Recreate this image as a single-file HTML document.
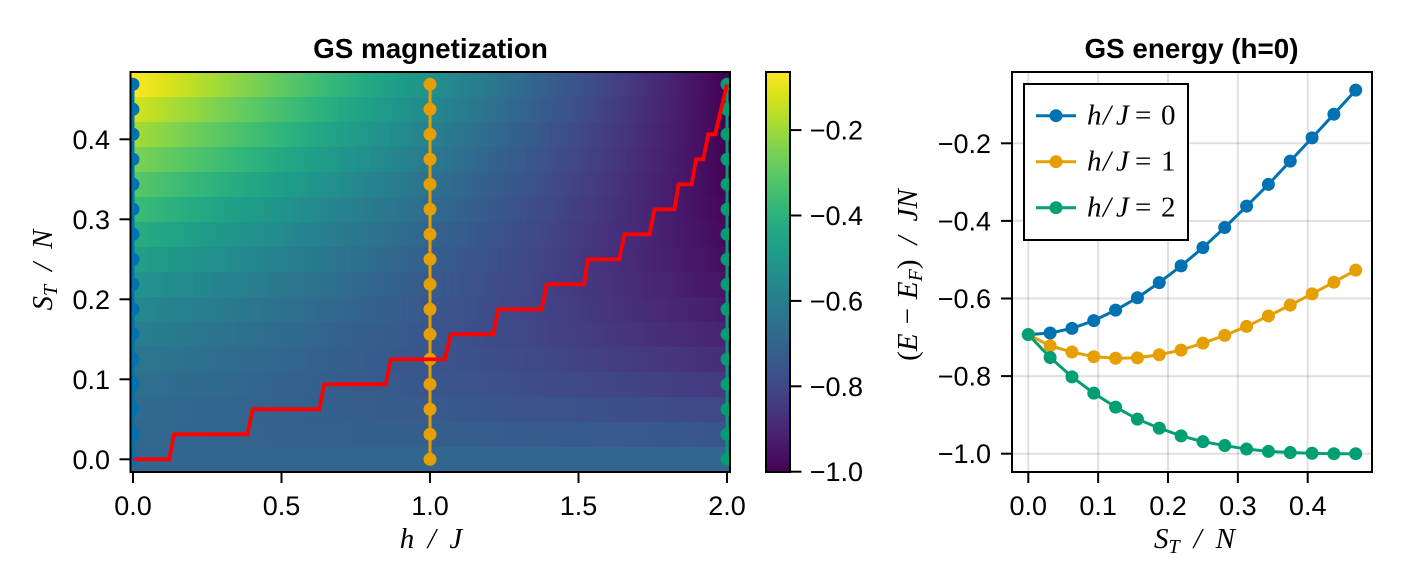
<!DOCTYPE html>
<html>
<head>
<meta charset="utf-8">
<title>GS magnetization and energy</title>
<style>
html,body{margin:0;padding:0;background:#fff;}
svg{display:block;}
.tick-label{font-family:"Liberation Sans",sans-serif;font-size:27px;fill:#000;}
.title{font-family:"Liberation Sans",sans-serif;font-size:27.8px;font-weight:bold;fill:#000;text-anchor:middle;}
.math{font-family:"Liberation Serif",serif;font-size:29px;font-style:italic;fill:#000;}
.upright{font-style:normal;}
</style>
</head>
<body>
<svg id="chart" xmlns="http://www.w3.org/2000/svg" width="1404" height="588" viewBox="0 0 1404 588">
  <defs id="defs">
    <clipPath id="heat-clip"><rect x="130.5" y="72" width="599.5" height="400"/></clipPath>
    <clipPath id="energy-clip"><rect x="1012" y="72" width="360" height="400"/></clipPath>
  </defs>
  <rect x="0" y="0" width="1404" height="588" fill="#fff"/>

  <g id="heat-layer" clip-path="url(#heat-clip)"></g>
  <g id="left-series" clip-path="url(#heat-clip)"></g>
  <polyline id="red-line" clip-path="url(#heat-clip)" fill="none" stroke="#ff0000" stroke-width="3.8" stroke-linejoin="miter"/>
  <rect x="130.5" y="72" width="599.5" height="400" fill="none" stroke="#000" stroke-width="2"/>
  <g id="left-ticks"></g>
  <text class="title" x="430.5" y="58">GS magnetization</text>
  <text class="math" x="431" y="548" text-anchor="middle">h<tspan dx="13.5">/</tspan><tspan dx="13.5">J</tspan></text>
  <text class="math" transform="translate(52,270) rotate(-90)" text-anchor="middle">S<tspan dy="5" font-size="20">T</tspan><tspan dy="-5" dx="14">/</tspan><tspan dx="14">N</tspan></text>

  <g id="colorbar-layer"></g>
  <rect x="766" y="72" width="24" height="400" fill="none" stroke="#000" stroke-width="2"/>
  <g id="colorbar-ticks"></g>

  <g id="right-grid"></g>
  <g id="right-series" clip-path="url(#energy-clip)"></g>
  <rect x="1012" y="72" width="360" height="400" fill="none" stroke="#000" stroke-width="2"/>
  <g id="right-ticks"></g>
  <text class="title" x="1191.5" y="58">GS energy (h=0)</text>
  <text class="math" x="1194.5" y="548" text-anchor="middle">S<tspan dy="5" font-size="20">T</tspan><tspan dy="-5" dx="14">/</tspan><tspan dx="14">N</tspan></text>
  <text class="math" transform="translate(917,275) rotate(-90)" text-anchor="middle"><tspan class="upright">(</tspan>E<tspan class="upright" dx="9">−</tspan><tspan dx="9">E</tspan><tspan dy="5" font-size="20">F</tspan><tspan class="upright" dy="-5">)</tspan><tspan dx="15">/</tspan><tspan dx="15">JN</tspan></text>

  <g>
    <rect x="1024" y="84" width="164" height="156" fill="#fff" stroke="#000" stroke-width="2"/>
    <g>
      <line x1="1036" x2="1076" y1="115.7" y2="115.7" stroke="#0072b2" stroke-width="3"/>
      <circle cx="1056" cy="115.7" r="6.5" fill="#0072b2"/>
      <text class="math" y="124.5"><tspan x="1087">h</tspan><tspan x="1103">/</tspan><tspan x="1116">J</tspan><tspan class="upright" x="1135">=</tspan><tspan class="upright" x="1161">0</tspan></text>
    </g>
    <g>
      <line x1="1036" x2="1076" y1="161.7" y2="161.7" stroke="#e69f00" stroke-width="3"/>
      <circle cx="1056" cy="161.7" r="6.5" fill="#e69f00"/>
      <text class="math" y="170.5"><tspan x="1087">h</tspan><tspan x="1103">/</tspan><tspan x="1116">J</tspan><tspan class="upright" x="1135">=</tspan><tspan class="upright" x="1161">1</tspan></text>
    </g>
    <g>
      <line x1="1036" x2="1076" y1="207.7" y2="207.7" stroke="#009e73" stroke-width="3"/>
      <circle cx="1056" cy="207.7" r="6.5" fill="#009e73"/>
      <text class="math" y="216.5"><tspan x="1087">h</tspan><tspan x="1103">/</tspan><tspan x="1116">J</tspan><tspan class="upright" x="1135">=</tspan><tspan class="upright" x="1161">2</tspan></text>
    </g>
  </g>
</svg>
<script>
// ---- data ----
const spinValues = [0,0.03125,0.0625,0.09375,0.125,0.15625,0.1875,0.21875,0.25,0.28125,0.3125,0.34375,0.375,0.40625,0.4375,0.46875];
const fieldValues = [0,0.1,0.2,0.3,0.4,0.5,0.6,0.7,0.8,0.9,1,1.1,1.2,1.3,1.4,1.5,1.6,1.7,1.8,1.9,2];
const heatRow00 = [-0.693,-0.693,-0.693,-0.693,-0.693,-0.693,-0.693,-0.693,-0.693,-0.693,-0.693,-0.693,-0.693,-0.693,-0.693,-0.693,-0.693,-0.693,-0.693,-0.693,-0.693];
const heatRow01 = [-0.689,-0.692,-0.695,-0.698,-0.702,-0.705,-0.708,-0.711,-0.714,-0.717,-0.720,-0.723,-0.727,-0.730,-0.733,-0.736,-0.739,-0.742,-0.745,-0.748,-0.752];
const heatRow02 = [-0.677,-0.683,-0.689,-0.696,-0.702,-0.708,-0.714,-0.721,-0.727,-0.733,-0.739,-0.746,-0.752,-0.758,-0.764,-0.771,-0.777,-0.783,-0.789,-0.796,-0.802];
const heatRow03 = [-0.657,-0.666,-0.676,-0.685,-0.695,-0.704,-0.713,-0.723,-0.732,-0.741,-0.751,-0.760,-0.770,-0.779,-0.788,-0.798,-0.807,-0.816,-0.826,-0.835,-0.845];
const heatRow04 = [-0.630,-0.643,-0.655,-0.668,-0.680,-0.693,-0.705,-0.718,-0.730,-0.743,-0.755,-0.768,-0.780,-0.793,-0.805,-0.818,-0.830,-0.843,-0.855,-0.868,-0.880];
const heatRow05 = [-0.598,-0.614,-0.629,-0.645,-0.660,-0.676,-0.692,-0.707,-0.723,-0.739,-0.754,-0.770,-0.785,-0.801,-0.817,-0.832,-0.848,-0.864,-0.879,-0.895,-0.910];
const heatRow06 = [-0.559,-0.578,-0.597,-0.615,-0.634,-0.653,-0.672,-0.690,-0.709,-0.728,-0.747,-0.765,-0.784,-0.803,-0.822,-0.840,-0.859,-0.878,-0.897,-0.915,-0.934];
const heatRow07 = [-0.516,-0.538,-0.560,-0.582,-0.604,-0.625,-0.647,-0.669,-0.691,-0.713,-0.735,-0.757,-0.779,-0.800,-0.822,-0.844,-0.866,-0.888,-0.910,-0.932,-0.954];
const heatRow08 = [-0.469,-0.494,-0.519,-0.544,-0.569,-0.594,-0.619,-0.644,-0.669,-0.694,-0.719,-0.744,-0.769,-0.794,-0.819,-0.844,-0.869,-0.894,-0.919,-0.944,-0.969];
const heatRow09 = [-0.417,-0.445,-0.473,-0.501,-0.529,-0.558,-0.586,-0.614,-0.642,-0.670,-0.698,-0.726,-0.754,-0.783,-0.811,-0.839,-0.867,-0.895,-0.923,-0.951,-0.979];
const heatRow10 = [-0.362,-0.393,-0.425,-0.456,-0.487,-0.518,-0.550,-0.581,-0.612,-0.643,-0.675,-0.706,-0.737,-0.768,-0.800,-0.831,-0.862,-0.893,-0.925,-0.956,-0.987];
const heatRow11 = [-0.306,-0.340,-0.375,-0.409,-0.444,-0.478,-0.512,-0.547,-0.581,-0.615,-0.650,-0.684,-0.719,-0.753,-0.787,-0.822,-0.856,-0.890,-0.925,-0.959,-0.994];
const heatRow12 = [-0.246,-0.284,-0.321,-0.359,-0.396,-0.434,-0.471,-0.509,-0.546,-0.584,-0.621,-0.659,-0.696,-0.734,-0.771,-0.809,-0.846,-0.884,-0.921,-0.959,-0.996];
const heatRow13 = [-0.186,-0.227,-0.267,-0.308,-0.349,-0.389,-0.430,-0.470,-0.511,-0.552,-0.592,-0.633,-0.674,-0.714,-0.755,-0.795,-0.836,-0.877,-0.917,-0.958,-0.999];
const heatRow14 = [-0.125,-0.169,-0.212,-0.256,-0.300,-0.344,-0.387,-0.431,-0.475,-0.519,-0.562,-0.606,-0.650,-0.694,-0.737,-0.781,-0.825,-0.869,-0.912,-0.956,-1.000];
const heatRow15 = [-0.063,-0.110,-0.157,-0.204,-0.250,-0.297,-0.344,-0.391,-0.438,-0.485,-0.532,-0.578,-0.625,-0.672,-0.719,-0.766,-0.813,-0.860,-0.907,-0.953,-1.000];
const heatRows = [heatRow00,heatRow01,heatRow02,heatRow03,heatRow04,heatRow05,heatRow06,heatRow07,heatRow08,heatRow09,heatRow10,heatRow11,heatRow12,heatRow13,heatRow14,heatRow15];

const energyH0 = [-0.693,-0.689,-0.677,-0.657,-0.630,-0.598,-0.559,-0.516,-0.469,-0.417,-0.362,-0.306,-0.246,-0.186,-0.125,-0.063];
const energyH1 = [-0.693,-0.722,-0.738,-0.750,-0.754,-0.753,-0.745,-0.733,-0.715,-0.695,-0.672,-0.645,-0.617,-0.588,-0.558,-0.527];
const energyH2 = [-0.693,-0.752,-0.802,-0.844,-0.880,-0.911,-0.934,-0.954,-0.969,-0.979,-0.988,-0.994,-0.997,-0.999,-1.000,-1.000];

const leftSeriesFields = [0,1,2];

const optimalField = [0,0.122,0.138,0.385,0.403,0.627,0.644,0.851,0.868,1.050,1.070,1.213,1.230,1.376,1.393,1.519,1.531,1.637,1.655,1.739,1.756,1.823,1.837,1.881,1.896,1.920,1.937,1.960,2];
const optimalSpin = [0,0,0.03125,0.03125,0.0625,0.0625,0.09375,0.09375,0.125,0.125,0.15625,0.15625,0.1875,0.1875,0.21875,0.21875,0.25,0.25,0.28125,0.28125,0.3125,0.3125,0.34375,0.34375,0.375,0.375,0.40625,0.40625,0.46875];

const leftXTicks = [0,0.5,1,1.5,2];
const leftXTickLabels = ["0.0","0.5","1.0","1.5","2.0"];
const leftYTicks = [0,0.1,0.2,0.3,0.4];
const leftYTickLabels = ["0.0","0.1","0.2","0.3","0.4"];
const colorTicks = [-0.2,-0.4,-0.6,-0.8,-1];
const colorTickLabels = ["−0.2","−0.4","−0.6","−0.8","−1.0"];
const rightXTicks = [0,0.1,0.2,0.3,0.4];
const rightXTickLabels = ["0.0","0.1","0.2","0.3","0.4"];
const rightYTicks = [-0.2,-0.4,-0.6,-0.8,-1];
const rightYTickLabels = ["−0.2","−0.4","−0.6","−0.8","−1.0"];

const colorMin = -1;
const colorMax = -0.064;
const viridisStops = ["#440154","#471365","#482475","#463480","#414487","#3b528b","#355f8d","#2f6c8e","#2a788e","#25848e","#21918c","#1e9c89","#22a884","#2fb47c","#44bf70","#5ec962","#7ad151","#9bd93c","#bddf26","#dfe318","#fde725"];

// ---- scales ----
const xLeft = h => 133 + 297 * h;
const yLeft = s => 459.3 - 800 * s;
const yColor = v => 471.7 - 427 * (v - colorMin);
const xRight = s => 1028.3 + 698.5 * s;
const yRight = e => 453.7 - 388 * (e + 1);

const NS = "http://www.w3.org/2000/svg";
function make(tag, parent, attrs) {
  const el = document.createElementNS(NS, tag);
  for (const k in attrs) el.setAttribute(k, attrs[k]);
  parent.appendChild(el);
  return el;
}
function hexToRgb(hex) {
  return [1, 3, 5].map(i => parseInt(hex.substr(i, 2), 16));
}
function viridis(v) {
  const t = Math.max(0, Math.min(1, (v - colorMin) / (colorMax - colorMin))) * (viridisStops.length - 1);
  const i = Math.min(viridisStops.length - 2, Math.floor(t));
  const a = hexToRgb(viridisStops[i]);
  const b = hexToRgb(viridisStops[i + 1]);
  const f = t - i;
  return "rgb(" + a.map((c, j) => Math.round(c + (b[j] - c) * f)).join(",") + ")";
}

const defs = document.getElementById("defs");

// ---- heatmap ----
const heatLayer = document.getElementById("heat-layer");
const rowHalf = (spinValues[1] - spinValues[0]) / 2;
heatRows.forEach((row, r) => {
  for (let c = 0; c < fieldValues.length - 1; c++) {
    const id = "cell-grad-" + r + "-" + c;
    const grad = make("linearGradient", defs, {
      id: id, gradientUnits: "userSpaceOnUse",
      x1: xLeft(fieldValues[c]), x2: xLeft(fieldValues[c + 1]), y1: 0, y2: 0
    });
    make("stop", grad, { offset: 0, "stop-color": viridis(row[c]) });
    make("stop", grad, { offset: 1, "stop-color": viridis(row[c + 1]) });
    const left = c === 0 ? 128 : xLeft(fieldValues[c]);
    const right = c === fieldValues.length - 2 ? 733 : xLeft(fieldValues[c + 1]);
    const top = yLeft(spinValues[r] + rowHalf);
    const bottom = yLeft(spinValues[r] - rowHalf);
    const cell = make("rect", heatLayer, {
      x: left, y: top, width: right - left, height: bottom - top,
      fill: "url(#" + id + ")", "shape-rendering": "crispEdges"
    });
    
    
  }
});

// ---- markers on the heatmap ----
const seriesColors = ["#0072b2", "#e69f00", "#009e73"];
const leftSeriesGroup = document.getElementById("left-series");
leftSeriesFields.forEach((h, idx) => {
  const line = make("polyline", leftSeriesGroup, {
    points: spinValues.map(s => xLeft(h) + "," + yLeft(s)).join(" "),
    fill: "none", stroke: seriesColors[idx], "stroke-width": 3
  });
  
  
  spinValues.forEach(s => {
    const dot = make("circle", leftSeriesGroup, { cx: xLeft(h), cy: yLeft(s), r: 6.5, fill: seriesColors[idx] });
    
    
  });
});

// ---- optimal-spin line ----
document.getElementById("red-line").setAttribute("points",
  optimalField.map((h, i) => xLeft(h) + "," + yLeft(optimalSpin[i])).join(" "));

// ---- ticks ----
function xTicks(group, values, labels, scale, name) {
  values.forEach((v, i) => {
    const t = make("line", group, { x1: scale(v), x2: scale(v), y1: 472, y2: 483, stroke: "#000", "stroke-width": 2 });
    
    
    const l = make("text", group, { x: scale(v), y: 515, "text-anchor": "middle", class: "tick-label" });
    
    
    l.textContent = labels[i];
  });
}
function yTicks(group, values, labels, scale, x0, x1, lx, anchor, name) {
  values.forEach((v, i) => {
    const t = make("line", group, { x1: x0, x2: x1, y1: scale(v), y2: scale(v), stroke: "#000", "stroke-width": 2 });
    
    
    const l = make("text", group, { x: lx, y: scale(v) + 9.5, "text-anchor": anchor, class: "tick-label" });
    
    
    l.textContent = labels[i];
  });
}
const leftTicks = document.getElementById("left-ticks");
xTicks(leftTicks, leftXTicks, leftXTickLabels, xLeft, "heatmap-x");
yTicks(leftTicks, leftYTicks, leftYTickLabels, yLeft, 119.5, 130.5, 110, "end", "heatmap-y");

// ---- colorbar ----
const colorbarGrad = make("linearGradient", defs, { id: "colorbar-grad", x1: 0, x2: 0, y1: 1, y2: 0 });
viridisStops.forEach((c, i) => {
  make("stop", colorbarGrad, { offset: i / (viridisStops.length - 1), "stop-color": c });
});
const colorbarFill = make("rect", document.getElementById("colorbar-layer"), {
  x: 766, y: yColor(colorMax), width: 24, height: yColor(colorMin) - yColor(colorMax), fill: "url(#colorbar-grad)"
});


yTicks(document.getElementById("colorbar-ticks"), colorTicks, colorTickLabels, yColor, 790, 801.5, 863, "end", "colorbar");

// ---- right chart ----
const gridGroup = document.getElementById("right-grid");
rightXTicks.forEach(v => {
  const g = make("line", gridGroup, { x1: xRight(v), x2: xRight(v), y1: 72, y2: 472, stroke: "#000", "stroke-opacity": 0.12, "stroke-width": 2 });
  
  
});
rightYTicks.forEach(v => {
  const g = make("line", gridGroup, { x1: 1012, x2: 1372, y1: yRight(v), y2: yRight(v), stroke: "#000", "stroke-opacity": 0.12, "stroke-width": 2 });
  
  
});
const rightSeriesGroup = document.getElementById("right-series");
[energyH0, energyH1, energyH2].forEach((series, idx) => {
  const line = make("polyline", rightSeriesGroup, {
    points: series.map((e, i) => xRight(spinValues[i]) + "," + yRight(e)).join(" "),
    fill: "none", stroke: seriesColors[idx], "stroke-width": 3
  });
  
  
  series.forEach((e, i) => {
    const dot = make("circle", rightSeriesGroup, { cx: xRight(spinValues[i]), cy: yRight(e), r: 6.5, fill: seriesColors[idx] });
    
    
  });
});
const rightTicks = document.getElementById("right-ticks");
xTicks(rightTicks, rightXTicks, rightXTickLabels, xRight, "energy-x");
yTicks(rightTicks, rightYTicks, rightYTickLabels, yRight, 1001, 1012, 991, "end", "energy-y");
</script>
</body>
</html>
